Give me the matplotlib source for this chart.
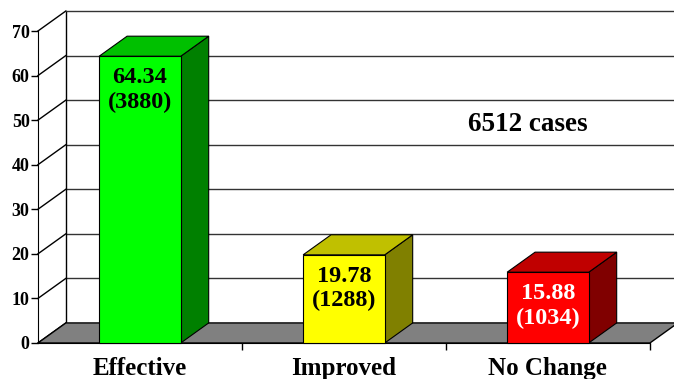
import numpy as np
import matplotlib.pyplot as plt

plt.rcParams['font.family'] = ['Liberation Serif', 'DejaVu Serif']
plt.rcParams['font.weight'] = 'bold'

# 데이터
categories = ['Effective', 'Improved', 'No Change']
percent = [64.34, 19.78, 15.88]
counts = [3880, 1288, 1034]
total_cases = 6512

front_colors = ['#00FF00', '#FFFF00', '#FF0000']
top_colors = ['#00C000', '#C0C000', '#C00000']
side_colors = ['#008000', '#808000', '#800000']
label_colors = ['black', 'black', 'white']

# 3D 느낌을 주기 위한 깊이 (x: 카테고리 단위, y: 값 단위)
DX = 0.137
DY = 4.5
W = 0.4
yticks = np.arange(0, 80, 10)

fig = plt.figure(figsize=(6.74, 3.79), dpi=100)
ax = fig.add_axes([0, 0, 1, 1])
ax.set_xlim(-0.686, 2.618)
ax.set_ylim(-8.08, 76.96)
ax.patch.set_alpha(0)

x0, x1 = -0.5, len(categories) - 0.5

# 뒷벽 + 눈금선
ax.fill([x0 + DX, x1 + DX, x1 + DX, x0 + DX],
        [DY, DY, yticks[-1] + DY, yticks[-1] + DY], color='white', zorder=0)
ax.hlines(yticks[1:] + DY, x0 + DX, x1 + DX, color='#333333', lw=1, zorder=1)
ax.vlines(x0 + DX, DY, yticks[-1] + DY, color='black', lw=1, zorder=1)

# 왼쪽 벽 사선
for v in yticks:
    ax.plot([x0, x0 + DX], [v, v + DY], color='black', lw=1, zorder=1)

# 바닥
ax.fill([x0, x1, x1 + DX, x0 + DX], [0, 0, DY, DY],
        facecolor='#808080', edgecolor='black', lw=1, zorder=2)

# 막대 (옆면, 윗면, 앞면)
for i, v in enumerate(percent):
    l, r = i - W / 2, i + W / 2
    ax.fill([r, r + DX, r + DX, r], [0, DY, v + DY, v],
            facecolor=side_colors[i], edgecolor='black', lw=0.8, zorder=3)
    ax.fill([l, r, r + DX, l + DX], [v, v, v + DY, v + DY],
            facecolor=top_colors[i], edgecolor='black', lw=0.8, zorder=3)
ax.bar(range(len(categories)), percent, width=W, color=front_colors,
       edgecolor='black', lw=0.8, zorder=4)

for i, v in enumerate(percent):
    ax.annotate(f'{v:.2f}\n({counts[i]})', xy=(i, v), xytext=(0, -8),
                textcoords='offset points', ha='center', va='top',
                fontsize=17.5, fontweight='bold', color=label_colors[i],
                linespacing=1.2, zorder=5)

ax.text(1.9, 49.1, f'{total_cases} cases', ha='center', va='center',
        fontsize=19.5, fontweight='bold')

# 축
for s in ['top', 'right']:
    ax.spines[s].set_visible(False)
ax.spines['left'].set_position(('data', x0))
ax.spines['left'].set_bounds(0, yticks[-1])
ax.spines['bottom'].set_position(('data', 0))
ax.spines['bottom'].set_bounds(x0, x1)
ax.spines['left'].set_zorder(6)

ax.set_yticks(yticks)
ax.tick_params(axis='y', direction='out', length=5, width=1, pad=1,
               labelsize=13)
ax.set_xticks(range(len(categories)))
ax.set_xticklabels(categories)
ax.set_xticks(np.arange(0.5, len(categories), 1), minor=True)
ax.tick_params(axis='x', which='major', length=0, pad=10, labelsize=18)
ax.tick_params(axis='x', which='minor', direction='out', length=5, width=1)
for lab in ax.get_xticklabels() + ax.get_yticklabels():
    lab.set_fontweight('bold')

fig.savefig('out.png', dpi=100)
